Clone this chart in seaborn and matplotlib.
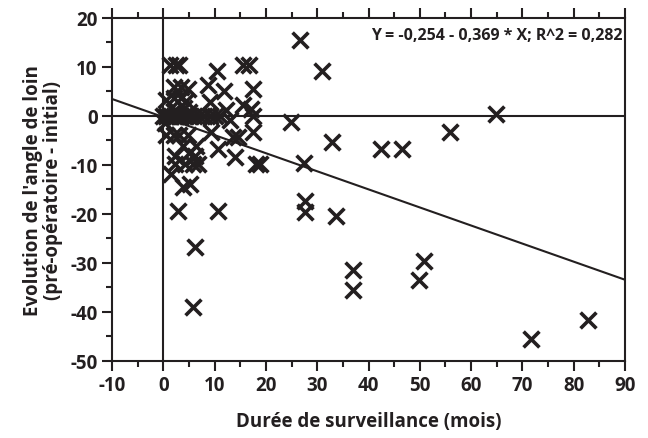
import numpy as np
import matplotlib
matplotlib.use("Agg")
import matplotlib.pyplot as plt
import seaborn as sns
import pandas as pd
from matplotlib.ticker import MultipleLocator

# Durée de surveillance (mois) vs évolution de l'angle de loin
duree = [
    1.2, 2.5, 3.1, 15.5, 16.7, 10.5, 30.9, 26.7,
    8.7, 2.0, 3.5, 4.8, 11.9, 17.5,
    0.5, 2.0, 3.5, 4.5, 9.0, 15.5, 17.1, 12.3,
    2.0, 4.0, 5.0,
    0.0, 0.5, 1.0, 1.5, 2.0, 2.5, 3.0, 3.5, 4.0, 5.0, 6.0, 7.0, 8.0, 9.0, 10.0, 11.0, 17.5,
    12.9, 24.9, 0.3,
    0.5, 2.0, 3.1, 4.8, 9.3, 17.5, 13.5, 14.5, 32.8, 55.8,
    3.8, 6.4, 10.6, 42.5, 46.6,
    2.2, 6.1, 13.9, 5.0,
    2.2, 4.2, 5.8, 6.8, 18.1, 18.8, 27.5,
    1.5, 5.1, 3.8,
    2.8, 10.6, 27.7, 27.7, 33.7,
    6.1, 5.7,
    37.0, 37.0, 50.8, 49.9, 71.7, 82.8,
    64.8,
]
evolution = [
    10.3, 10.3, 10.3, 10.3, 10.3, 9.2, 9.2, 15.4,
    6.2, 5.8, 5.8, 5.5, 5.1, 5.4,
    3.2, 3.6, 3.6, 3.0, 2.8, 2.2, 1.4, 1.1,
    1.0, 1.5, 0.8,
    0, 0, 0, 0, 0, 0, 0, 0, 0, 0, 0, 0, 0, 0, 0, 0, 0,
    -0.8, -1.3, -1.5,
    -4.0, -4.0, -4.0, -4.0, -3.4, -3.3, -4.4, -4.4, -5.4, -3.4,
    -6.1, -6.1, -6.8, -6.8, -6.8,
    -8.1, -8.1, -8.5, -7.5,
    -9.8, -9.8, -9.8, -9.8, -9.8, -9.8, -9.6,
    -11.9, -13.9, -14.6,
    -19.4, -19.4, -17.3, -19.6, -20.4,
    -26.8, -39.1,
    -31.4, -35.5, -29.6, -33.5, -45.6, -41.7,
    0.4,
]

# regression reported on the chart
intercept = -0.254
slope = -0.369
r2 = 0.282

INK = '#231f20'

sns.set_style("ticks")
plt.rcParams['font.family'] = ['Open Sans', 'DejaVu Sans']
plt.rcParams['font.weight'] = 'bold'
plt.rcParams['axes.unicode_minus'] = False

df = pd.DataFrame({'duree': duree, 'evolution': evolution})

fig = plt.figure(figsize=(6.48, 4.39), dpi=100)
ax = fig.add_axes([0.173, 0.176, 0.7915, 0.781])

ax.axhline(0, color=INK, lw=1.5, zorder=1)
ax.axvline(0, color=INK, lw=1.5, zorder=1)

xs = np.array([-10, 90])
ax.plot(xs, intercept + slope * xs, color=INK, lw=1.5, zorder=2)

sns.scatterplot(data=df, x='duree', y='evolution', marker='x', s=130,
                linewidth=2.6, color=INK, ax=ax, zorder=3)

ax.set_xlim(-10, 90)
ax.set_ylim(-50, 20)
ax.xaxis.set_major_locator(MultipleLocator(10))
ax.xaxis.set_minor_locator(MultipleLocator(5))
ax.yaxis.set_major_locator(MultipleLocator(10))
ax.yaxis.set_minor_locator(MultipleLocator(5))
ax.tick_params(which='both', direction='out', color=INK, width=1.5,
               top=True, right=False, labelsize=13.5, labelcolor=INK)
ax.tick_params(which='major', length=7)
ax.tick_params(which='minor', length=4)
for sp in ax.spines.values():
    sp.set_color(INK)
    sp.set_linewidth(1.5)

ax.set_xlabel('Durée de surveillance (mois)', fontsize=13.5, fontweight='bold',
              color=INK, labelpad=11)
ax.set_ylabel("Evolution de l'angle de loin\n(pré-opératoire - initial)",
              fontsize=13.5, fontweight='bold', color=INK, labelpad=5,
              linespacing=1.05)

ax.text(0.995, 0.972,
        f'Y = {intercept:.3f} - {abs(slope):.3f} * X; R^2 = {r2:.3f}'.replace('.', ','),
        transform=ax.transAxes, ha='right', va='top', fontsize=11.5,
        fontweight='bold', color=INK)

fig.canvas.draw()
for t in ax.xaxis.get_major_ticks() + ax.yaxis.get_major_ticks():
    t.label1.set_fontweight('bold')

fig.savefig('out.png', dpi=100)
